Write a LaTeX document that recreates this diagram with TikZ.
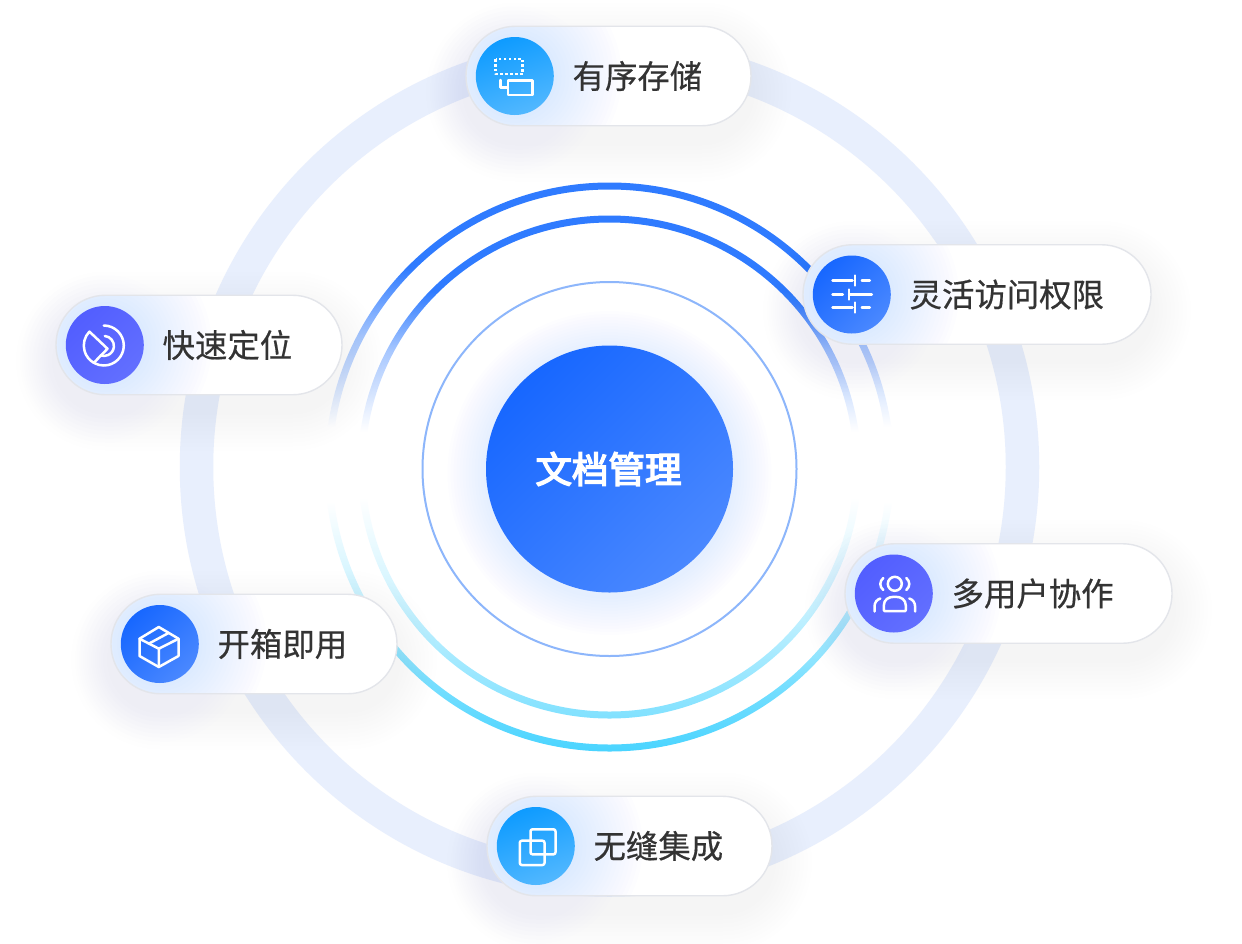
\documentclass[tikz,border=0pt]{standalone}
\usepackage{fontspec}
\usetikzlibrary{positioning}
\newfontfamily\cjkfont[FakeBold=0.5]{Noto Sans CJK SC}
\newfontfamily\cjkhead[FakeBold=4]{Noto Sans CJK SC}
\definecolor{ringpale}{HTML}{E8EFFD}
\definecolor{ringblue}{HTML}{2F7BFF}
\definecolor{ringsky}{HTML}{4AD4FF}
\definecolor{ringthin}{HTML}{8DB6FB}
\definecolor{pillline}{HTML}{E3E5EA}
\definecolor{labelgrey}{HTML}{333333}
\definecolor{coreA}{HTML}{1767FF}
\definecolor{coreB}{HTML}{4A88FF}
\definecolor{skyA}{HTML}{0E9BFF}
\definecolor{skyB}{HTML}{52B8FF}
\definecolor{violetA}{HTML}{525EFF}
\definecolor{violetB}{HTML}{626FFF}
\pgfdeclareverticalshading{ringfade}{100bp}{color(0bp)=(ringsky); color(25bp)=(ringsky); color(31bp)=(ringsky!75!white); color(38.5bp)=(ringsky!30!white); color(47bp)=(white); color(53.5bp)=(white); color(61.5bp)=(ringblue!42!white); color(67.5bp)=(ringblue); color(100bp)=(ringblue)}
\pgfdeclareverticalshading{ringfadeinner}{100bp}{color(0bp)=(ringsky!70!white); color(25bp)=(ringsky!70!white); color(31bp)=(ringsky!50!white); color(38.5bp)=(ringsky!22!white); color(47bp)=(white); color(53.5bp)=(white); color(61.5bp)=(ringblue!42!white); color(67.5bp)=(ringblue); color(100bp)=(ringblue)}
\newcommand{\pill}[7]{%
  \foreach \g in {4,8,...,40}{\fill[black,opacity=.0045,rounded corners=49.5pt+\g pt] (#2-\g,#3-49.5-\g+16) rectangle (#2+#4+\g,#3+49.5+\g+16);}
  \foreach \g in {4,8,...,28}{\fill[ringblue,opacity=.004] (#2+49.5,#3+14) circle (56+\g);}
  \node[pillbox,minimum width=#4pt,anchor=west](#1) at (#2,#3){};
  \node[ball,#5](#1ball) at (#2+48.8,#3){};
  \node[pilltext,right=18.6pt of #1ball](#1text){#6};
  \begin{scope}[shift={(#1ball.center)},icon] #7 \end{scope}
}
\newcommand{\iconstore}{
  \draw[line cap=butt,line width=2.8,dash pattern=on 2.6pt off 2.3pt] (-19,-17) rectangle (8,-2);
  \draw (-7,4.7) rectangle (17.5,19);
  \draw (-14.5,4) -- (-14.5,11.5) -- (-7,11.5);
}
\newcommand{\iconslide}{
  \draw (-19.3,-14) -- (0.7,-14) (10,-14) -- (18,-14) (3.3,-19) -- (3.3,-9);
  \draw (-19.3,0) -- (-9,0) (-2.7,0) -- (20,0) (-2.7,-5) -- (-2.7,5);
  \draw (-19.3,13) -- (0.7,13) (10,13) -- (18,13) (3.3,8) -- (3.3,18);
}
\newcommand{\icontarget}{
  \draw (-1,-19.5) arc[start angle=-90,end angle=118,radius=20];
  \draw (-15.4,-13.4) arc[start angle=-136,end angle=-240,radius=20] -- (2.7,3.7) -- cycle;
  \draw (0,-9) arc[start angle=-85,end angle=110,radius=10];
}
\newcommand{\iconteam}{
  \draw (1,-9.7) circle (7);
  \draw (-10.5,-15.5) .. controls (-14.5,-12) and (-14.5,-7) .. (-10.5,-3.5);
  \draw (12.5,-15.5) .. controls (16.5,-12) and (16.5,-7) .. (12.5,-3.5);
  \draw[rounded corners=1pt] (-10,17.7) -- (-10,13) .. controls (-10,6) and (-5,3.3) .. (1,3.3) .. controls (7,3.3) and (12,6) .. (12,13) -- (12,17.7) -- cycle;
  \draw (-19.3,18) -- (-19.3,13) .. controls (-19.3,9) and (-17,6) .. (-13.5,5);
  \draw (21.3,18) -- (21.3,13) .. controls (21.3,9) and (19,6) .. (15.5,5);
}
\newcommand{\iconbox}{
  \draw (-1,-17) -- (18.7,-5.3) -- (18.7,12) -- (-1,23) -- (-20.3,12) -- (-20.3,-5.3) -- cycle;
  \draw (-20.3,-5.3) -- (-1,4.7) -- (18.7,-5.3) (-1,4.7) -- (-1,23);
  \draw (-10.7,-0.5) -- (8.7,-11);
}
\newcommand{\iconcopy}{
  \draw[rounded corners=2pt] (-16,-5.3) rectangle (8.7,19);
  \draw[rounded corners=2pt] (-5.3,-16.7) rectangle (19.7,8.3);
}

\begin{document}
\begin{tikzpicture}[x=1pt,y=1pt,yscale=-1]
    \tikzset{pillbox/.style={draw=pillline,line width=1.4,fill=white,rounded corners=49.5pt,minimum height=99.5pt,inner sep=0pt,outer sep=0pt,
                path picture={\foreach \g in {0,4,...,68}{\fill[ringblue,opacity=.007] ([xshift=48.8pt]path picture bounding box.west) circle (39pt+\g pt);}}},
             ball/.style={circle,minimum size=78pt,inner sep=0pt,outer sep=0pt},
             blueball/.style={left color=coreA,right color=coreB,shading angle=45},
             skyball/.style={top color=skyA,bottom color=skyB,shading angle=20},
             violetball/.style={left color=violetA,right color=violetB,shading angle=45},
             pilltext/.style={font=\cjkfont\fontsize{32.4}{32.4}\selectfont,text=labelgrey,inner sep=0pt},
             icon/.style={draw=white,line width=2.5,line cap=round,line join=round}}
    \useasboundingbox (0,0) rectangle (1242,943);
    \fill[white] (0,0) rectangle (1242,943);
    \coordinate (ringc) at (609.5,467);
    \draw[ringpale,line width=33.5] (ringc) circle (413);
    \shade[shading=ringfade,even odd rule] (ringc) circle (284.5) (ringc) circle (277.5);
    \shade[shading=ringfadeinner,even odd rule] (ringc) circle (251.5) (ringc) circle (244.5);
    \draw[ringthin,line width=2] (609.5,469) circle (187);
    \foreach \g in {3,6,...,39}{\fill[ringblue,opacity=.007] (609.5,473) circle (123+\g);}
    \node[circle,minimum size=247pt,inner sep=0pt,outer sep=0pt,left color=coreA,right color=coreB,shading angle=45,text=white,font=\cjkhead\fontsize{36.5}{36.5}\selectfont](core) at (609.5,469){\hspace*{-2pt}文档管理};
    \pill{store}{466}{76}{285}{skyball}{有序存储}{\iconstore}
    \pill{access}{803}{294.5}{348}{blueball}{灵活访问权限}{\iconslide}
    \pill{locate}{56}{345}{286}{violetball}{快速定位}{\icontarget}
    \pill{team}{845}{593.5}{327}{violetball}{多用户协作}{\iconteam}
    \pill{unbox}{111}{644}{286}{blueball}{开箱即用}{\iconbox}
    \pill{merge}{487}{846}{285}{skyball}{无缝集成}{\iconcopy}
\end{tikzpicture}
\end{document}
